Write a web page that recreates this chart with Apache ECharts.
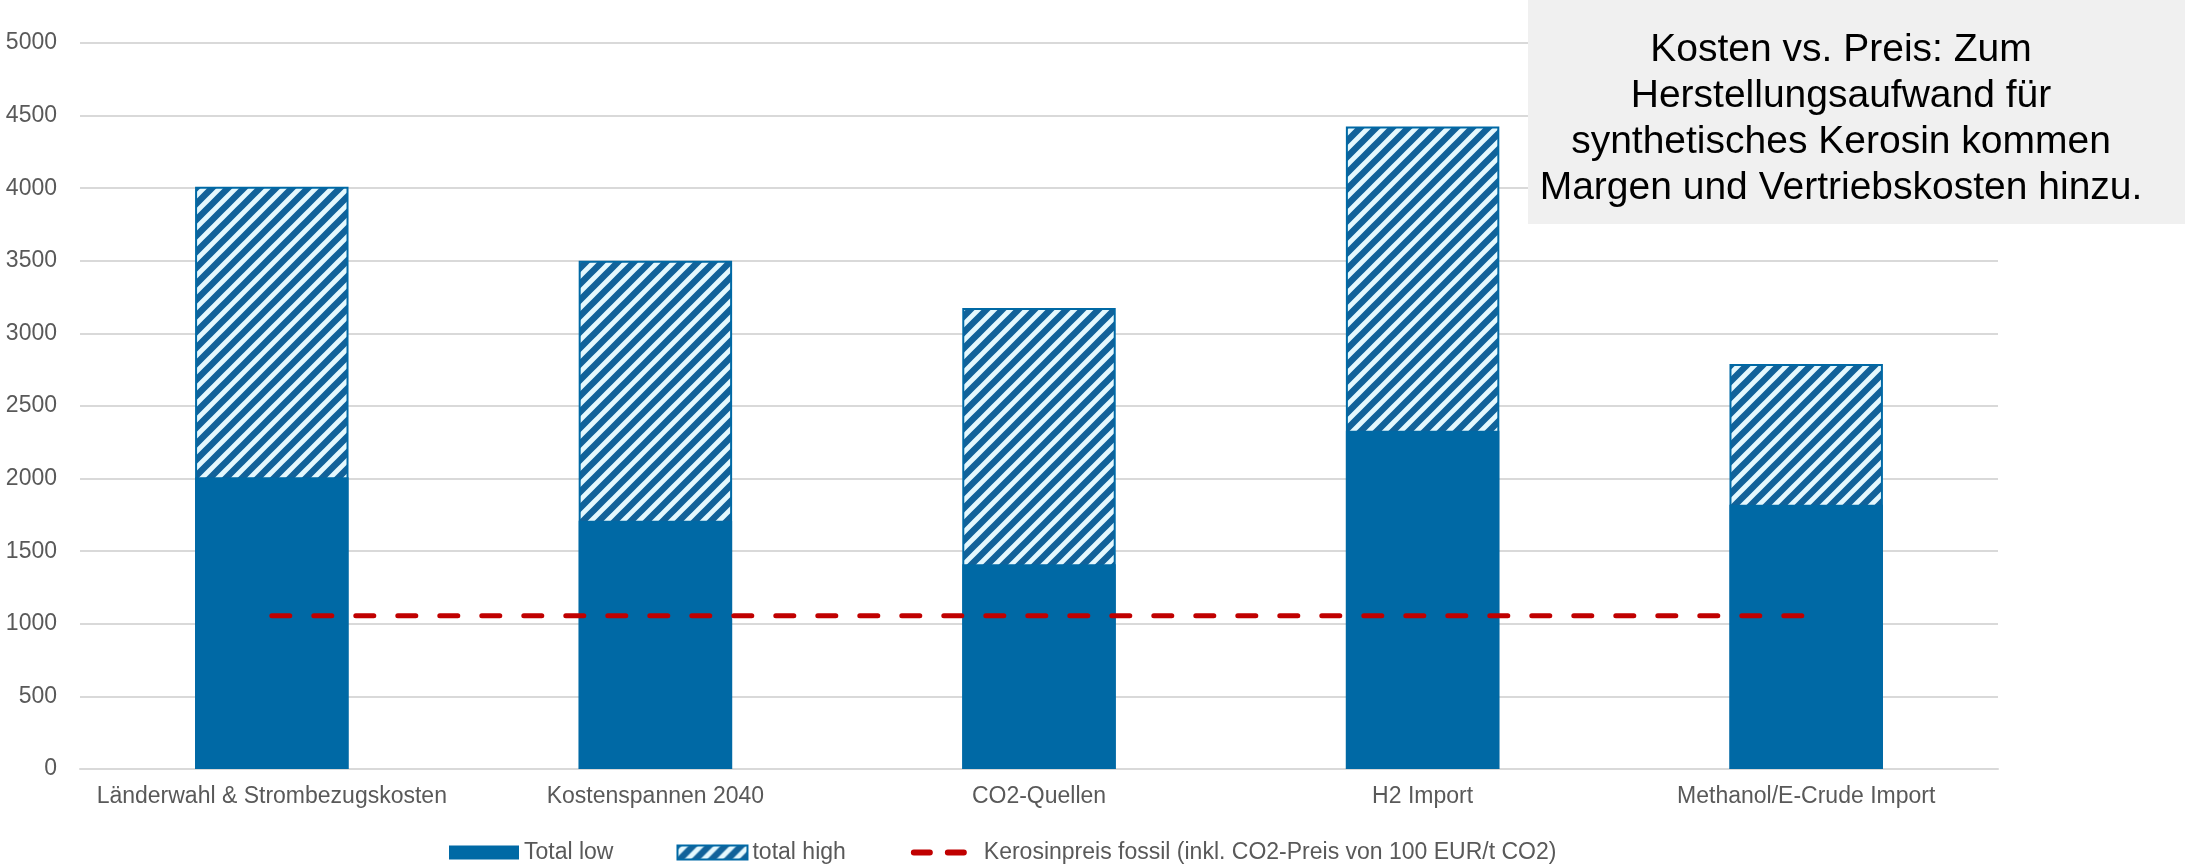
<!DOCTYPE html>
<html>
<head>
<meta charset="utf-8">
<title>Kosten synthetisches Kerosin</title>
<script src="https://cdn.jsdelivr.net/npm/echarts@6/dist/echarts.min.js"></script>
<style>
  html, body { margin: 0; padding: 0; background: #ffffff; }
  #chart { width: 2185px; height: 864px; }
</style>
</head>
<body>
<div id="chart"></div>
<script>
// Scenario categories on the x axis
const categories = [
  'Länderwahl & Strombezugskosten',
  'Kostenspannen 2040',
  'CO2-Quellen',
  'H2 Import',
  'Methanol/E-Crude Import'
];

// Production cost range per scenario
const totalLow = [2010, 1710, 1410, 2330, 1820];
const totalHigh = [4010, 3500, 3175, 4425, 2790];

// Fossil kerosene price incl. CO2 price of 100 EUR/t
const kerosinFossil = [1055, 1055, 1055, 1055, 1055];

// Value axis range and step
const yMin = 0;
const yMax = 5000;
const yStep = 500;

const seriesNames = [
  'Total low',
  'total high',
  'Kerosinpreis fossil (inkl. CO2-Preis von 100 EUR/t CO2)'
];

const noteLines = [
  'Kosten vs. Preis: Zum',
  'Herstellungsaufwand für',
  'synthetisches Kerosin kommen',
  'Margen und Vertriebskosten hinzu.'
];

const FONT = '"Liberation Sans", Arial, sans-serif';
const BLUE = '#0069A5';
const RED = '#C00000';

// Diagonal hatch tile for the upper cost range
function makeHatch() {
  const s = 16;
  const c = document.createElement('canvas');
  c.width = s;
  c.height = s;
  const ctx = c.getContext('2d');
  ctx.fillStyle = '#E4F8FE';
  ctx.fillRect(0, 0, s, s);
  ctx.strokeStyle = '#11629A';
  ctx.lineWidth = 6.5;
  ctx.lineCap = 'square';
  for (let k = -s; k <= s; k += s) {
    ctx.beginPath();
    ctx.moveTo(k, s);
    ctx.lineTo(k + s, 0);
    ctx.stroke();
  }
  return c;
}
const hatch = { image: makeHatch(), repeat: 'repeat' };

// Two rounded dashes for the price legend entry (bounding box padded to 70x14)
const dashIcon = 'path://M0,0 M70,14 ' +
  'M5,4 H21 A3,3 0 0 1 21,10 H5 A3,3 0 0 1 5,4 Z ' +
  'M39,4 H55 A3,3 0 0 1 55,10 H39 A3,3 0 0 1 39,4 Z';

const chart = echarts.init(document.getElementById('chart'), null, { renderer: 'canvas' });

chart.setOption({
  backgroundColor: '#ffffff',
  animation: false,
  textStyle: { fontFamily: FONT },
  grid: { left: 80, right: 187, top: 43, bottom: 95, containLabel: false },
  legend: {
    left: 444,
    top: 836,
    itemWidth: 70,
    itemHeight: 14,
    itemGap: 63,
    textStyle: { fontFamily: FONT, fontSize: 23, color: '#595959' },
    data: [
      { name: seriesNames[0], icon: 'rect' },
      { name: seriesNames[1], icon: 'rect' },
      { name: seriesNames[2], icon: dashIcon }
    ]
  },
  xAxis: {
    type: 'category',
    data: categories,
    axisLine: { show: true, lineStyle: { color: '#D9D9D9', width: 2 } },
    axisTick: { show: false },
    axisLabel: { interval: 0, fontFamily: FONT, fontSize: 23, color: '#595959', margin: 16 }
  },
  yAxis: {
    type: 'value',
    min: yMin,
    max: yMax,
    interval: yStep,
    axisLine: { show: false },
    axisTick: { show: false },
    splitLine: { lineStyle: { color: '#D9D9D9', width: 2 } },
    axisLabel: {
      fontFamily: FONT,
      fontSize: 23,
      color: '#595959',
      margin: 23,
      formatter: (v) => String(v)
    }
  },
  series: [
    {
      name: seriesNames[1],
      type: 'bar',
      data: totalHigh,
      barWidth: '40%',
      barGap: '-100%',
      itemStyle: { color: hatch, borderColor: BLUE, borderWidth: 2 },
      z: 2
    },
    {
      name: seriesNames[0],
      type: 'bar',
      data: totalLow,
      barWidth: '40%',
      barGap: '-100%',
      itemStyle: { color: BLUE },
      z: 3
    },
    {
      name: seriesNames[2],
      type: 'line',
      data: kerosinFossil,
      symbol: 'none',
      color: RED,
      lineStyle: { color: RED, width: 5, type: [18, 24], cap: 'round' },
      z: 4
    }
  ],
  graphic: [
    {
      type: 'rect',
      left: 1528,
      top: 0,
      shape: { width: 657, height: 224 },
      style: { fill: '#F0F0F0' },
      z: 10
    },
    {
      type: 'text',
      x: 1841,
      y: 119,
      style: {
        text: noteLines.join('\n'),
        font: '39px ' + FONT,
        fill: '#000000',
        align: 'center',
        verticalAlign: 'middle',
        lineHeight: 46
      },
      z: 11
    }
  ]
});
</script>
</body>
</html>
